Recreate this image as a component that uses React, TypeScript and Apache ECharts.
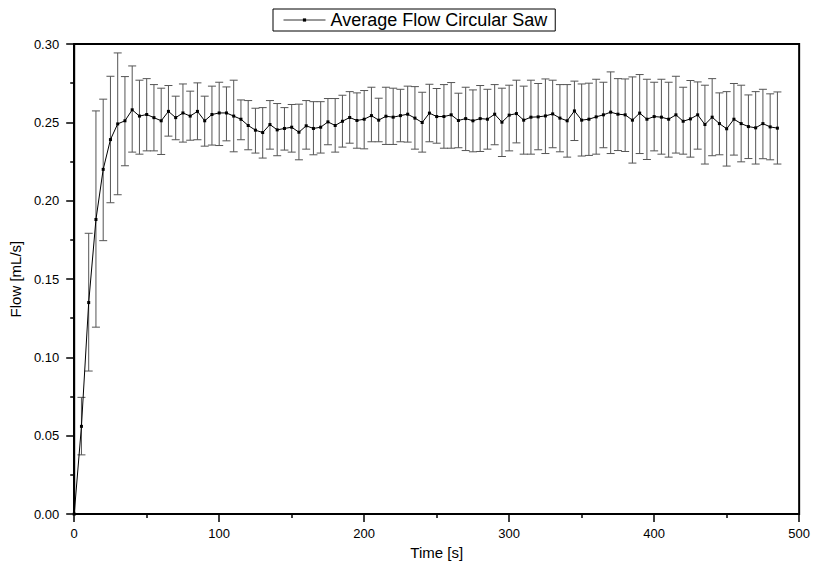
import React, { useEffect, useRef } from "react";
import * as echarts from "echarts";

const times = [
  0, 5, 10, 15, 20, 25, 30, 35, 40, 45, 50, 55, 60, 65, 70, 75, 80, 85, 90, 95,
  100, 105, 110, 115, 120, 125, 130, 135, 140, 145, 150, 155, 160, 165, 170, 175, 180, 185, 190, 195,
  200, 205, 210, 215, 220, 225, 230, 235, 240, 245, 250, 255, 260, 265, 270, 275, 280, 285, 290, 295,
  300, 305, 310, 315, 320, 325, 330, 335, 340, 345, 350, 355, 360, 365, 370, 375, 380, 385, 390, 395,
  400, 405, 410, 415, 420, 425, 430, 435, 440, 445, 450, 455, 460, 465, 470, 475, 480, 485,
];

const meanFlow = [
  0, 0.056, 0.135, 0.188, 0.22, 0.239, 0.249, 0.251, 0.258, 0.254, 0.255, 0.253, 0.251, 0.257, 0.253, 0.256, 0.254, 0.257, 0.251, 0.255,
  0.256, 0.256, 0.254, 0.252, 0.248, 0.245, 0.2435, 0.2486, 0.2452, 0.2461, 0.2469, 0.2437, 0.2478, 0.2461, 0.2469, 0.2503, 0.248, 0.2507, 0.2531, 0.2512,
  0.252, 0.2543, 0.2514, 0.2539, 0.2533, 0.2543, 0.2552, 0.2527, 0.2499, 0.2559, 0.2537, 0.2537, 0.2548, 0.2512, 0.2524, 0.251, 0.2524, 0.252, 0.2552, 0.2501,
  0.2546, 0.2556, 0.2514, 0.2533, 0.2535, 0.2541, 0.2554, 0.2527, 0.251, 0.2573, 0.2514, 0.252, 0.2535, 0.2548, 0.2565, 0.2552, 0.2548, 0.2514, 0.2559, 0.252,
  0.2537, 0.2533, 0.252, 0.2548, 0.2507, 0.2522, 0.2548, 0.2486, 0.2533, 0.2492, 0.2459, 0.252, 0.2492, 0.2473, 0.2465, 0.2492, 0.2471, 0.2463,
];

const upperFlow = [
  0, 0.0745, 0.1792, 0.2573, 0.2648, 0.2794, 0.2943, 0.2792, 0.286, 0.2769, 0.2779, 0.2741, 0.2718, 0.2735, 0.2667, 0.2745, 0.2699, 0.2752, 0.2667, 0.2731,
  0.2756, 0.2726, 0.2769, 0.2643, 0.2639, 0.259, 0.2594, 0.2639, 0.262, 0.2594, 0.2614, 0.2616, 0.2639, 0.2632, 0.2632, 0.2652, 0.2652, 0.2673, 0.2696, 0.2688,
  0.2703, 0.2724, 0.2654, 0.2724, 0.2718, 0.2711, 0.2731, 0.2728, 0.2692, 0.2743, 0.2716, 0.2741, 0.2754, 0.2686, 0.2724, 0.2707, 0.2735, 0.2711, 0.2741, 0.2718,
  0.2737, 0.2769, 0.2731, 0.2769, 0.2748, 0.2777, 0.2769, 0.2741, 0.2741, 0.2763, 0.2745, 0.275, 0.2775, 0.2756, 0.2822, 0.2779, 0.2777, 0.279, 0.2805, 0.2775,
  0.2756, 0.2775, 0.2756, 0.2794, 0.2724, 0.2767, 0.2758, 0.2737, 0.2779, 0.2688, 0.2696, 0.2748, 0.2737, 0.2675, 0.2696, 0.2711, 0.2682, 0.2694,
];

const lowerFlow = [
  0, 0.0378, 0.0913, 0.1193, 0.1745, 0.1987, 0.2038, 0.2223, 0.231, 0.2297, 0.2318, 0.2318, 0.2295, 0.2412, 0.2389, 0.2374, 0.2386, 0.2389, 0.2348, 0.2355,
  0.2352, 0.2382, 0.2312, 0.2389, 0.2325, 0.2304, 0.2272, 0.2329, 0.2287, 0.2323, 0.231, 0.2261, 0.2329, 0.2293, 0.2304, 0.2357, 0.231, 0.2342, 0.2367, 0.2335,
  0.2331, 0.2376, 0.2376, 0.2359, 0.2359, 0.2376, 0.2374, 0.2329, 0.231, 0.2376, 0.2367, 0.2335, 0.2335, 0.2338, 0.232, 0.2312, 0.2314, 0.2329, 0.2357, 0.2282,
  0.2318, 0.2369, 0.2297, 0.2297, 0.2325, 0.2301, 0.2338, 0.2312, 0.2278, 0.2384, 0.2285, 0.2289, 0.2297, 0.2338, 0.2301, 0.232, 0.2314, 0.224, 0.2301, 0.2263,
  0.2318, 0.2297, 0.2278, 0.2304, 0.2297, 0.2278, 0.2329, 0.2234, 0.2287, 0.2293, 0.2221, 0.2291, 0.2248, 0.2269, 0.2234, 0.2268, 0.2261, 0.2234,
];

const seriesName = "Average Flow Circular Saw";
const xAxisName = "Time [s]";
const yAxisName = "Flow [mL/s]";
const FONT = "'Liberation Sans', Arial, Helvetica, sans-serif";

export default function App() {
  const ref = useRef<HTMLDivElement>(null);

  useEffect(() => {
    document.body.style.margin = "0";
    if (!ref.current) return;
    const chart = echarts.init(ref.current, null, { renderer: "svg" });

    const lineData = times.map((t, i) => [t, meanFlow[i]]);
    const errData = times.map((t, i) => [t, upperFlow[i], lowerFlow[i]]);

    chart.setOption({
      animation: false,
      backgroundColor: "#fff",
      textStyle: { fontFamily: FONT },
      grid: {
        left: 73,
        top: 44,
        right: 13,
        bottom: 50,
        show: true,
        borderColor: "#000",
        borderWidth: 2,
        backgroundColor: "transparent",
      },
      legend: {
        data: [seriesName],
        left: 273,
        top: 9,
        orient: "horizontal",
        borderColor: "#000",
        borderWidth: 1,
        borderRadius: 0,
        padding: [2, 8, 2, 10],
        itemWidth: 42,
        itemHeight: 4,
        lineStyle: { width: 1, color: "#333" },
        textStyle: { fontFamily: FONT, fontSize: 18, color: "#000" },
      },
      xAxis: {
        type: "value",
        min: 0,
        max: 500,
        interval: 100,
        name: xAxisName,
        nameLocation: "middle",
        nameGap: 30,
        nameTextStyle: { fontFamily: FONT, fontSize: 15, color: "#000" },
        axisLine: { show: true, onZero: false, lineStyle: { color: "#000", width: 2 } },
        axisTick: { show: true, inside: false, length: 8, lineStyle: { color: "#000", width: 1.5 } },
        minorTick: { show: true, splitNumber: 2, length: 4, lineStyle: { color: "#000", width: 1.5 } },
        splitLine: { show: false },
        minorSplitLine: { show: false },
        axisLabel: { color: "#000", fontSize: 13, margin: 13, fontFamily: FONT },
      },
      yAxis: {
        type: "value",
        min: 0,
        max: 0.3,
        interval: 0.05,
        name: yAxisName,
        nameLocation: "middle",
        nameGap: 50,
        nameRotate: 90,
        nameTextStyle: { fontFamily: FONT, fontSize: 15, color: "#000" },
        axisLine: { show: true, onZero: false, lineStyle: { color: "#000", width: 2 } },
        axisTick: { show: true, inside: false, length: 8, lineStyle: { color: "#000", width: 1.5 } },
        minorTick: { show: true, splitNumber: 2, length: 4, lineStyle: { color: "#000", width: 1.5 } },
        splitLine: { show: false },
        minorSplitLine: { show: false },
        axisLabel: {
          color: "#000",
          fontSize: 13,
          margin: 15,
          fontFamily: FONT,
          formatter: (v: number) => v.toFixed(2),
        },
      },
      series: [
        {
          type: "custom",
          name: "errorbars",
          data: errData,
          z: 1,
          silent: true,
          renderItem: (params: any, api: any) => {
            const t = api.value(0);
            const hi = api.value(1);
            const lo = api.value(2);
            if (hi === lo) return { type: "group", children: [] };
            const pHi = api.coord([t, hi]);
            const pLo = api.coord([t, lo]);
            const hw = 4;
            const style = { stroke: "#555", lineWidth: 1 };
            return {
              type: "group",
              children: [
                { type: "line", shape: { x1: pHi[0], y1: pHi[1], x2: pLo[0], y2: pLo[1] }, style },
                { type: "line", shape: { x1: pHi[0] - hw, y1: pHi[1], x2: pHi[0] + hw, y2: pHi[1] }, style },
                { type: "line", shape: { x1: pLo[0] - hw, y1: pLo[1], x2: pLo[0] + hw, y2: pLo[1] }, style },
              ],
            };
          },
        },
        {
          type: "line",
          name: seriesName,
          data: lineData,
          z: 3,
          symbol: "rect",
          symbolSize: 3,
          showSymbol: true,
          lineStyle: { color: "#000", width: 1 },
          itemStyle: { color: "#000" },
        },
      ],
    });

    return () => chart.dispose();
  }, []);

  return <div ref={ref} style={{ width: 813, height: 565 }} />;
}
